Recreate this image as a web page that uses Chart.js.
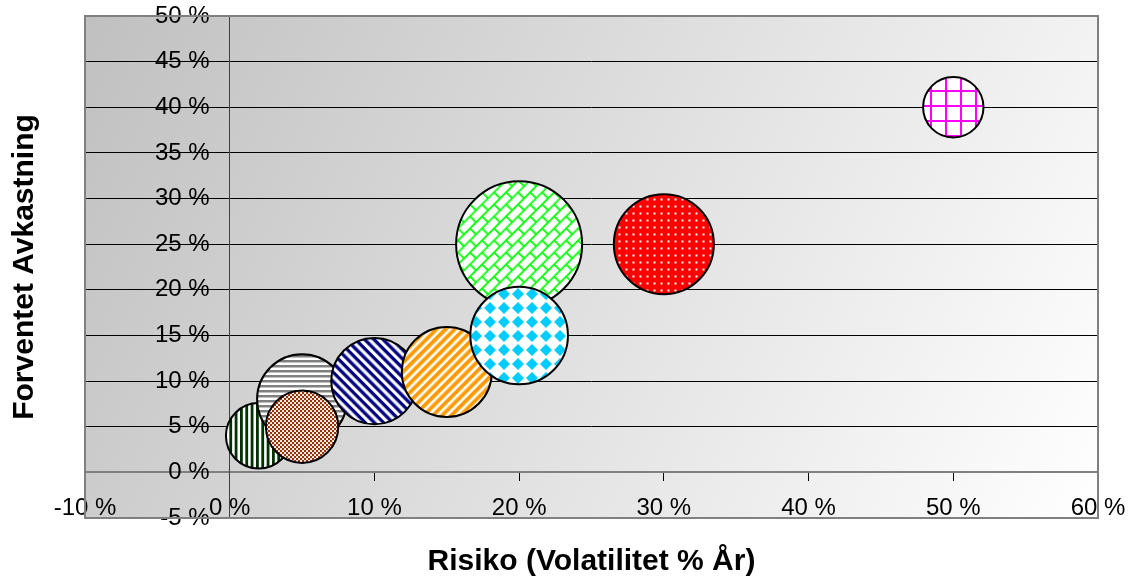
<!DOCTYPE html>
<html>
<head>
<meta charset="utf-8">
<script src="https://cdn.jsdelivr.net/npm/chart.js@4.4.1/dist/chart.umd.min.js"></script>
<style>
  html, body { margin: 0; padding: 0; background: #fff; }
  #wrap { width: 1130px; height: 580px; }
</style>
</head>
<body>
<div id="wrap"><canvas id="riskChart" width="1130" height="580"></canvas></div>
<script>
// Risk (x, %), expected return (y, %) and bubble size for each asset
const riskValues = [2, 5, 5, 10, 15, 20, 20, 30, 50];
const returnValues = [4, 8, 5, 10, 11, 25, 15, 25, 40];
const bubbleSizes = [27, 51, 33, 47, 51, 100, 60, 63, 23];
const xTicks = [-10, 0, 10, 20, 30, 40, 50, 60];
const yTicks = [-5, 0, 5, 10, 15, 20, 25, 30, 35, 40, 45, 50];

const canvas = document.getElementById('riskChart');
const ctx = canvas.getContext('2d');
const FONT = 'Liberation Sans, Arial, sans-serif';
Chart.defaults.font.family = FONT;
Chart.defaults.color = '#000';

// Build a repeating fill pattern from a small tile
function makePattern(w, h, draw, angle) {
  const c = document.createElement('canvas');
  c.width = w;
  c.height = h;
  const g = c.getContext('2d');
  g.fillStyle = '#ffffff';
  g.fillRect(0, 0, w, h);
  draw(g, w, h);
  const p = ctx.createPattern(c, 'repeat');
  if (angle) p.setTransform(new DOMMatrix().rotate(angle));
  return p;
}

const patterns = [
  // dark green vertical stripes
  makePattern(16, 4, (g) => {
    g.fillStyle = '#003300';
    [0, 5.33, 10.67].forEach(x => g.fillRect(x, 0, 2.8, 4));
  }),
  // gray horizontal stripes
  makePattern(4, 10, (g) => {
    g.fillStyle = '#808080';
    g.fillRect(0, 0, 4, 2.5);
    g.fillRect(0, 5, 4, 2.5);
  }),
  // brown small checker
  makePattern(4, 4, (g) => {
    g.fillStyle = '#993300';
    g.fillRect(0, 0, 4, 4);
    g.fillStyle = '#ffffff';
    g.fillRect(0.1, 0.1, 1.9, 1.9);
    g.fillRect(2.1, 2.1, 1.9, 1.9);
  }),
  // navy downward diagonal
  makePattern(4, 13, (g) => {
    g.fillStyle = '#000080';
    g.fillRect(0, 0, 4, 3.3);
    g.fillRect(0, 6.5, 4, 3.3);
  }, 45),
  // orange upward diagonal
  makePattern(4, 13, (g) => {
    g.fillStyle = '#ff9900';
    g.fillRect(0, 0, 4, 3.8);
    g.fillRect(0, 6.5, 4, 3.8);
  }, -45),
  // bright green diagonal brick
  makePattern(17, 17, (g) => {
    g.strokeStyle = '#00ff00';
    g.lineWidth = 1.8;
    g.beginPath();
    g.moveTo(0, 0.9); g.lineTo(17, 0.9);
    g.moveTo(0, 9.4); g.lineTo(17, 9.4);
    g.moveTo(0.9, 0); g.lineTo(0.9, 9.4);
    g.moveTo(9.4, 9.4); g.lineTo(9.4, 17);
    g.stroke();
  }, -45),
  // cyan solid diamonds
  makePattern(14, 14, (g) => {
    g.fillStyle = '#00ccff';
    const d = 6;
    [[0, 0], [14, 0], [0, 14], [14, 14]].forEach(([cx, cy]) => {
      g.beginPath();
      g.moveTo(cx, cy - d); g.lineTo(cx + d, cy); g.lineTo(cx, cy + d); g.lineTo(cx - d, cy);
      g.closePath();
      g.fill();
    });
  }),
  // red with white dots
  makePattern(7, 7, (g) => {
    g.fillStyle = '#ff0000';
    g.fillRect(0, 0, 7, 7);
    g.fillStyle = '#ffffff';
    g.fillRect(2.5, 2.5, 2, 2);
  }),
  // magenta grid
  makePattern(15, 15, (g) => {
    g.fillStyle = '#ff00ff';
    g.fillRect(0, 0, 2, 15);
    g.fillRect(0, 0, 15, 2);
  })
];

const maxRadius = 63;
const maxSize = Math.max(...bubbleSizes);
const points = riskValues.map((x, i) => ({
  x: x,
  y: returnValues[i],
  r: maxRadius * Math.sqrt(bubbleSizes[i] / maxSize)
}));

// Gradient plot background and gray frame
const plotArea = {
  id: 'plotArea',
  beforeDraw(chart) {
    const a = chart.chartArea;
    const c = chart.ctx;
    const grad = c.createLinearGradient(a.left, a.top, a.right, a.bottom);
    grad.addColorStop(0, '#c0c0c0');
    grad.addColorStop(1, '#ffffff');
    c.save();
    c.fillStyle = grad;
    c.fillRect(a.left, a.top, a.right - a.left, a.bottom - a.top);
    c.restore();
  },
  beforeDatasetsDraw(chart) {
    const a = chart.chartArea;
    const c = chart.ctx;
    c.save();
    c.strokeStyle = '#808080';
    c.lineWidth = 2;
    c.strokeRect(a.left, a.top, a.right - a.left, a.bottom - a.top);
    c.restore();
  }
};

const tickFont = { family: FONT, size: 24 };
const titleFont = { family: FONT, size: 30, weight: 'bold' };

new Chart(canvas, {
  type: 'bubble',
  data: {
    datasets: [{
      data: points,
      backgroundColor: patterns,
      borderColor: '#000000',
      borderWidth: 2
    }]
  },
  options: {
    responsive: false,
    animation: false,
    events: [],
    layout: { autoPadding: false, padding: { top: 16, right: 32, left: 0, bottom: 0 } },
    plugins: {
      legend: { display: false },
      tooltip: { enabled: false },
      title: {
        display: true,
        position: 'bottom',
        fullSize: false,
        text: 'Risiko (Volatilitet % År)',
        color: '#000',
        font: titleFont,
        padding: { top: 26, bottom: 0 }
      },
      subtitle: {
        display: true,
        position: 'left',
        fullSize: false,
        text: 'Forventet Avkastning',
        color: '#000',
        font: titleFont,
        padding: { top: 7, bottom: 42 }
      }
    },
    scales: {
      x: {
        type: 'linear',
        min: xTicks[0],
        max: xTicks[xTicks.length - 1],
        position: { y: 0 },
        afterBuildTicks: (scale) => { scale.ticks = xTicks.map(v => ({ value: v })); },
        ticks: {
          padding: 0,
          font: tickFont,
          color: '#000',
          callback: (v) => v + ' %'
        },
        // long tick length places the labels low; the dash keeps the visible mark short
        grid: { drawOnChartArea: false, drawTicks: true, tickLength: 22, tickColor: '#000', tickBorderDash: [8, 60] },
        border: { display: true, color: '#808080', width: 2 }
      },
      y: {
        type: 'linear',
        min: yTicks[0],
        max: yTicks[yTicks.length - 1],
        position: { x: 0 },
        afterBuildTicks: (scale) => { scale.ticks = yTicks.map(v => ({ value: v })); },
        ticks: {
          padding: 0,
          font: tickFont,
          color: '#000',
          // labels on a crossing axis sit flush on the axis line; trailing spaces keep them clear of the tick marks
          callback: (v) => v + ' %\u2002\u2004'
        },
        grid: { color: '#000', lineWidth: 1, tickLength: 8, tickColor: '#000' },
        border: { display: true, color: '#404040', width: 1 }
      }
    }
  },
  plugins: [plotArea]
});
</script>
</body>
</html>
